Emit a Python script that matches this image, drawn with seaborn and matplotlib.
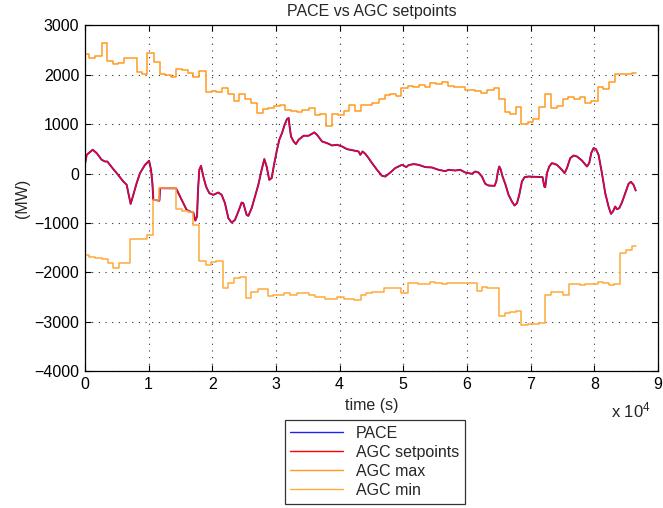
import numpy as np
import pandas as pd
import matplotlib
matplotlib.use("Agg")
import matplotlib.pyplot as plt
import seaborn as sns

# ---------------- data (time in units of 1e4 s, power in MW) ----------------
T_END = 8.65

pace_t = [0, 0.029, 0.123, 0.186, 0.264, 0.317, 0.353, 0.421, 0.5, 0.604,
          0.657, 0.683, 0.719, 0.761, 0.813, 0.866, 0.945, 1.008, 1.039, 1.06,
          1.075, 1.17, 1.18, 1.432, 1.494, 1.546, 1.598, 1.651, 1.703, 1.735,
          1.761, 1.777, 1.797, 1.824, 1.86, 1.903, 1.954, 2.017, 2.096, 2.148,
          2.2, 2.253, 2.305, 2.357, 2.41, 2.462, 2.488, 2.54, 2.567, 2.619,
          2.672, 2.724, 2.776, 2.818, 2.854, 2.896, 2.933, 2.97, 3.017, 3.053,
          3.096, 3.137, 3.174, 3.2, 3.215, 3.237, 3.278, 3.315, 3.356, 3.435,
          3.513, 3.603, 3.645, 3.724, 3.802, 3.881, 3.959, 4.038, 4.116, 4.22,
          4.298, 4.325, 4.361, 4.403, 4.455, 4.509, 4.587, 4.666, 4.717, 4.796,
          4.874, 4.98, 5.047, 5.083, 5.162, 5.24, 5.345, 5.45, 5.554, 5.659,
          5.711, 5.816, 5.895, 5.973, 6.078, 6.13, 6.182, 6.235, 6.287, 6.339,
          6.433, 6.46, 6.486, 6.507, 6.528, 6.559, 6.601, 6.653, 6.706, 6.747,
          6.785, 6.821, 6.863, 6.904, 6.967, 7.187, 7.214, 7.229, 7.256, 7.292,
          7.334, 7.413, 7.491, 7.532, 7.57, 7.622, 7.674, 7.727, 7.805, 7.884,
          7.92, 7.951, 7.988, 8.025, 8.066, 8.119, 8.171, 8.223, 8.261, 8.292,
          8.328, 8.355, 8.391, 8.433, 8.485, 8.537, 8.574, 8.615, 8.65]

pace_v = [176, 379, 481, 413, 278, 243, 243, 130, 8, -162,
          -229, -398, -615, -432, -195, 8, 176, 258, 75, -195,
          -533, -548, -297, -300, -466, -601, -736, -770, -790, -953,
          -872, -331, 75, 156, -61, -264, -398, -432, -385, -432,
          -601, -905, -994, -939, -770, -588, -601, -838, -858, -702,
          -466, -229, 75, 292, 142, -128, -93, 176, 481, 684,
          819, 988, 1103, 1124, 953, 750, 649, 596, 684, 765,
          765, 832, 785, 649, 616, 568, 582, 548, 494, 467,
          446, 379, 446, 400, 312, 211, 75, -47, -61, 20,
          110, 176, 130, 170, 191, 176, 130, 122, 75, 48,
          75, 61, 75, 20, -6, 41, 20, -61, -209, -243,
          -250, -162, 41, 142, 89, -61, -209, -432, -568, -649,
          -601, -432, -162, -74, -61, -74, -264, -277, 8, 142,
          211, 176, 75, 8, 110, 312, 365, 345, 264, 142,
          211, 413, 515, 494, 379, 8, -398, -669, -817, -770,
          -669, -723, -702, -588, -398, -209, -168, -229, -345]

setpoint_v = list(pace_v)

max_t = [0, 0.07, 0.16, 0.264, 0.353, 0.436, 0.526, 0.62, 0.813, 0.892,
         0.981, 1.08, 1.174, 1.259, 1.347, 1.432, 1.52, 1.625, 1.703, 1.786,
         1.903, 2.0, 2.06, 2.148, 2.242, 2.347, 2.425, 2.515, 2.61, 2.708,
         2.79, 2.88, 2.97, 3.064, 3.148, 3.242, 3.331, 3.41, 3.513, 3.608,
         3.697, 3.791, 3.881, 3.975, 4.063, 4.141, 4.236, 4.34, 4.509, 4.612,
         4.706, 4.796, 4.885, 4.964, 5.074, 5.152, 5.24, 5.334, 5.424, 5.518,
         5.607, 5.702, 5.79, 5.962, 6.13, 6.225, 6.314, 6.418, 6.507, 6.59,
         6.68, 6.769, 6.852, 6.958, 7.036, 7.124, 7.229, 7.323, 7.413, 7.501,
         7.585, 7.673, 7.768, 7.857, 7.951, 8.05, 8.129, 8.223, 8.317, 8.59]
max_v = [2420, 2345, 2390, 2640, 2285, 2210, 2230, 2335, 2050, 2020,
         2450, 2260, 2010, 1990, 1960, 2120, 2100, 2040, 1960, 2070,
         1645, 1680, 1660, 1725, 1610, 1470, 1610, 1515, 1430, 1230,
         1305, 1330, 1360, 1395, 1292, 1270, 1237, 1292, 1318, 1185,
         1210, 967, 1200, 1185, 1270, 1393, 1265, 1393, 1428, 1500,
         1590, 1615, 1560, 1725, 1772, 1750, 1800, 1750, 1833, 1812,
         1853, 1765, 1745, 1697, 1675, 1637, 1685, 1725, 1508, 1245,
         1210, 1340, 995, 1040, 1110, 1340, 1617, 1330, 1365, 1500,
         1550, 1500, 1557, 1434, 1465, 1752, 1720, 1853, 2022, 2042]

min_t = [0, 0.071, 0.16, 0.264, 0.358, 0.436, 0.537, 0.71, 0.97, 1.075,
         1.17, 1.432, 1.52, 1.614, 1.703, 1.786, 1.903, 1.981, 2.06, 2.163,
         2.242, 2.342, 2.436, 2.524, 2.609, 2.713, 2.87, 2.959, 3.121, 3.226,
         3.331, 3.513, 3.608, 3.775, 3.959, 4.063, 4.22, 4.341, 4.414, 4.509,
         4.691, 4.964, 5.074, 5.231, 5.424, 5.502, 5.607, 5.686, 6.157, 6.235,
         6.314, 6.496, 6.59, 6.68, 6.769, 6.852, 6.958, 7.124, 7.229, 7.323,
         7.501, 7.595, 7.768, 7.857, 8.05, 8.129, 8.223, 8.312, 8.402, 8.496,
         8.59]
min_v = [-1649, -1683, -1717, -1737, -1818, -1920, -1811, -1325, -1250, -533,
         -290, -716, -765, -785, -1040, -1765, -1858, -1797, -1771, -2325,
         -2210, -2122, -2103, -2515, -2406, -2339, -2481, -2454, -2427, -2460,
         -2427, -2460, -2508, -2542, -2508, -2542, -2569, -2460, -2427, -2400,
         -2325, -2413, -2210, -2238, -2190, -2210, -2238, -2210, -2379, -2298,
         -2325, -2886, -2832, -2805, -2778, -3076, -3055, -3022, -2460, -2406,
         -2460, -2238, -2265, -2238, -2190, -2218, -2265, -2238, -1602, -1548,
         -1460]

x_ticks = [0, 1, 2, 3, 4, 5, 6, 7, 8, 9]
y_ticks = [-4000, -3000, -2000, -1000, 0, 1000, 2000, 3000]

# ---------------- style ----------------
sns.set_theme(style="ticks")
plt.rcParams["font.family"] = ["Liberation Sans", "DejaVu Sans"]
plt.rcParams["axes.unicode_minus"] = True
plt.rcParams["mathtext.fontset"] = "custom"
plt.rcParams["mathtext.rm"] = "Liberation Sans"
plt.rcParams["mathtext.it"] = "Liberation Sans"
plt.rcParams["mathtext.default"] = "regular"

FS = 11.5
fig = plt.figure(figsize=(6.63, 5.08), dpi=100)
ax = fig.add_axes([0.128, 0.2697, 0.8645, 0.6803])

pace_df = pd.DataFrame({"t": pace_t, "v": pace_v})
sp_df = pd.DataFrame({"t": pace_t, "v": setpoint_v})
max_df = pd.DataFrame({"t": max_t + [T_END], "v": max_v + [max_v[-1]]})
min_df = pd.DataFrame({"t": min_t + [T_END], "v": min_v + [min_v[-1]]})

sns.lineplot(data=pace_df, x="t", y="v", ax=ax, color="#2020ff", lw=1.4,
             sort=False, estimator=None, label="PACE")
sns.lineplot(data=sp_df, x="t", y="v", ax=ax, color="#ff0000", lw=1.0,
             sort=False, estimator=None, label="AGC setpoints")
sns.lineplot(data=max_df, x="t", y="v", ax=ax, color="#ff9a1f", lw=1.1,
             sort=False, estimator=None, drawstyle="steps-post", label="AGC max")
sns.lineplot(data=min_df, x="t", y="v", ax=ax, color="#ffa93a", lw=1.1,
             sort=False, estimator=None, drawstyle="steps-post", label="AGC min")

ax.set_xlim(0, 9)
ax.set_ylim(-4000, 3000)
ax.set_xticks(x_ticks)
ax.set_xticklabels([str(v) for v in x_ticks])
ax.set_yticks(y_ticks)
ax.set_yticklabels([str(v).replace("-", "\u2212") for v in y_ticks])

ax.grid(True, color="0.2", linestyle=(0, (1, 5)), linewidth=0.8)
for s in ax.spines.values():
    s.set_visible(True)
    s.set_color("black")
    s.set_linewidth(0.9)
ax.tick_params(direction="in", top=True, right=True, length=4, width=0.8,
               labelsize=FS, colors="black", pad=4)

ax.set_title("PACE vs AGC setpoints", fontsize=FS, pad=7)
ax.set_xlabel("time (s)", fontsize=FS, labelpad=5)
ax.set_ylabel("(MW)", fontsize=FS, labelpad=3)
fig.text(0.922, 0.193, "x 10$^{4}$", fontsize=12, ha="left", va="center")

leg = ax.legend(loc="center", bbox_to_anchor=(0.565, 0.0906),
                bbox_transform=fig.transFigure, fontsize=FS,
                frameon=True, fancybox=False, edgecolor="black",
                handlelength=3.3, labelspacing=0.25, borderpad=0.35,
                handletextpad=0.8, borderaxespad=0)
leg.get_frame().set_linewidth(0.9)
for line in leg.get_lines():
    line.set_linewidth(1.0)

fig.savefig("out.png", dpi=100)
